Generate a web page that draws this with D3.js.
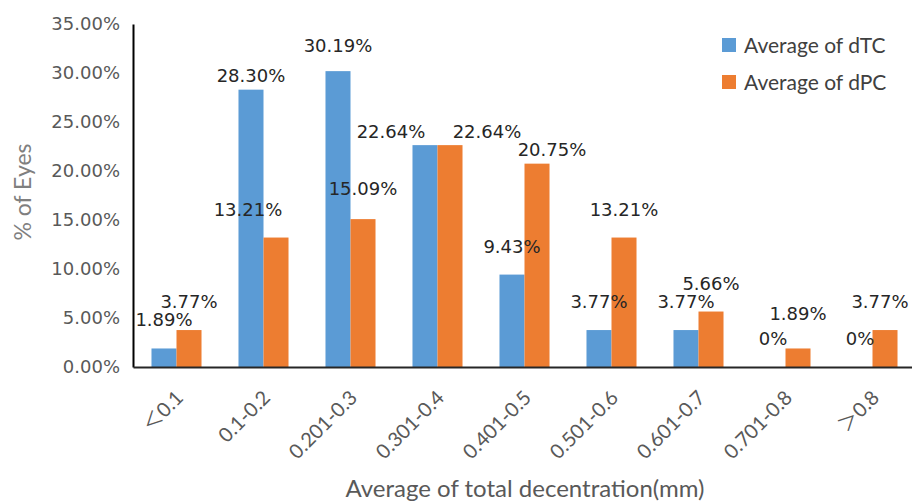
<!DOCTYPE html>
<html>
<head>
<meta charset="utf-8">
<script src="https://cdn.jsdelivr.net/npm/d3@7"></script>
<style>
  body { margin: 0; background: #fff; }
  svg { display: block; }
</style>
</head>
<body>
<div id="chart"></div>
<script>
// categories and values
var categories = ["＜0.1", "0.1-0.2", "0.201-0.3", "0.301-0.4", "0.401-0.5",
                  "0.501-0.6", "0.601-0.7", "0.701-0.8", "＞0.8"];
var dTC = [1.89, 28.30, 30.19, 22.64, 9.43, 3.77, 3.77, 0, 0];
var dPC = [3.77, 13.21, 15.09, 22.64, 20.75, 13.21, 5.66, 1.89, 3.77];
var yTicks = [0, 5, 10, 15, 20, 25, 30, 35];
var seriesNames = ["Average of dTC", "Average of dPC"];

// label nudges (px) for the labels that were dragged by hand in the original
var dTCLabelShift = [[0,0],[0,14],[0,3],[-34,15],[0,0],[0,0],[0,0],[0,0],[0,0]];
var dPCLabelShift = [[0,0],[-28,0],[0,-2],[37,15],[15,14],[0,0],[0,0],[0,-6],[-5,0]];

var width = 912, height = 501;
var colors = ["#5b9bd5", "#ed7d31"];
var sans = "Lato, 'Noto Sans CJK SC', sans-serif";

var svg = d3.select("#chart").append("svg")
    .attr("width", width)
    .attr("height", height);

// set the ranges
var x0 = d3.scaleBand()
    .domain(categories)
    .range([133, 916])
    .paddingInner(0.425)
    .paddingOuter(0.2125);
var x1 = d3.scaleBand()
    .domain([0, 1])
    .range([0, x0.bandwidth()]);
var y = d3.scaleLinear()
    .domain([0, 35])
    .range([367, 24]);

var series = [dTC, dPC];
var shifts = [dTCLabelShift, dPCLabelShift];

// bars
series.forEach(function(vals, s) {
  svg.append("g").selectAll("rect")
      .data(vals)
    .enter().append("rect")
      .attr("x", function(d, i) { return x0(categories[i]) + x1(s); })
      .attr("width", x1.bandwidth())
      .attr("y", function(d) { return y(d); })
      .attr("height", function(d) { return y(0) - y(d); })
      .attr("fill", colors[s]);
});

// y axis
var yAxis = svg.append("g")
    .attr("transform", "translate(133,0)")
    .call(d3.axisLeft(y).tickValues(yTicks).tickSize(0).tickPadding(13)
          .tickFormat(function(d) { return d3.format(".2f")(d) + "%"; }));
yAxis.select(".domain").attr("stroke", "#000").attr("stroke-width", 2);
yAxis.selectAll("text")
    .attr("font-family", "DejaVu Sans")
    .attr("font-size", 18)
    .attr("fill", "#595959");

// x axis
var xAxis = svg.append("g")
    .attr("transform", "translate(0,367)")
    .call(d3.axisBottom(x0).tickSize(0).tickPadding(0));
xAxis.select(".domain").attr("stroke", "#262626").attr("stroke-width", 2);
xAxis.selectAll("text")
    .attr("font-family", sans)
    .attr("font-size", 20)
    .attr("fill", "#595959")
    .attr("text-anchor", "end")
    .attr("dy", 0)
    .attr("transform", "translate(8,32) rotate(-45)");

// data labels
series.forEach(function(vals, s) {
  svg.append("g").selectAll("text")
      .data(vals)
    .enter().append("text")
      .attr("x", function(d, i) {
        return x0(categories[i]) + x1(s) + x1.bandwidth() / 2 + shifts[s][i][0];
      })
      .attr("y", function(d, i) { return y(d) - 22 + shifts[s][i][1]; })
      .attr("text-anchor", "middle")
      .attr("font-family", "DejaVu Sans")
      .attr("font-size", 18)
      .attr("fill", "#262626")
      .text(function(d) { return d === 0 ? "0%" : d3.format(".2f")(d) + "%"; });
});

// axis titles
svg.append("text")
    .attr("transform", "rotate(-90)")
    .attr("x", -192)
    .attr("y", 31)
    .attr("text-anchor", "middle")
    .attr("font-family", sans)
    .attr("font-size", 23)
    .attr("fill", "#7f7f7f")
    .text("% of Eyes");

svg.append("text")
    .attr("x", 525)
    .attr("y", 497)
    .attr("text-anchor", "middle")
    .attr("font-family", sans)
    .attr("font-size", 24)
    .attr("fill", "#595959")
    .text("Average of total decentration(mm)");

// legend
var legend = svg.append("g").selectAll("g")
    .data(seriesNames)
  .enter().append("g")
    .attr("transform", function(d, i) { return "translate(722," + (38 + i * 37) + ")"; });
legend.append("rect")
    .attr("width", 14)
    .attr("height", 14)
    .attr("fill", function(d, i) { return colors[i]; });
legend.append("text")
    .attr("x", 22)
    .attr("y", 15)
    .attr("font-family", sans)
    .attr("font-size", 21)
    .attr("fill", "#404040")
    .text(function(d) { return d; });
</script>
</body>
</html>
